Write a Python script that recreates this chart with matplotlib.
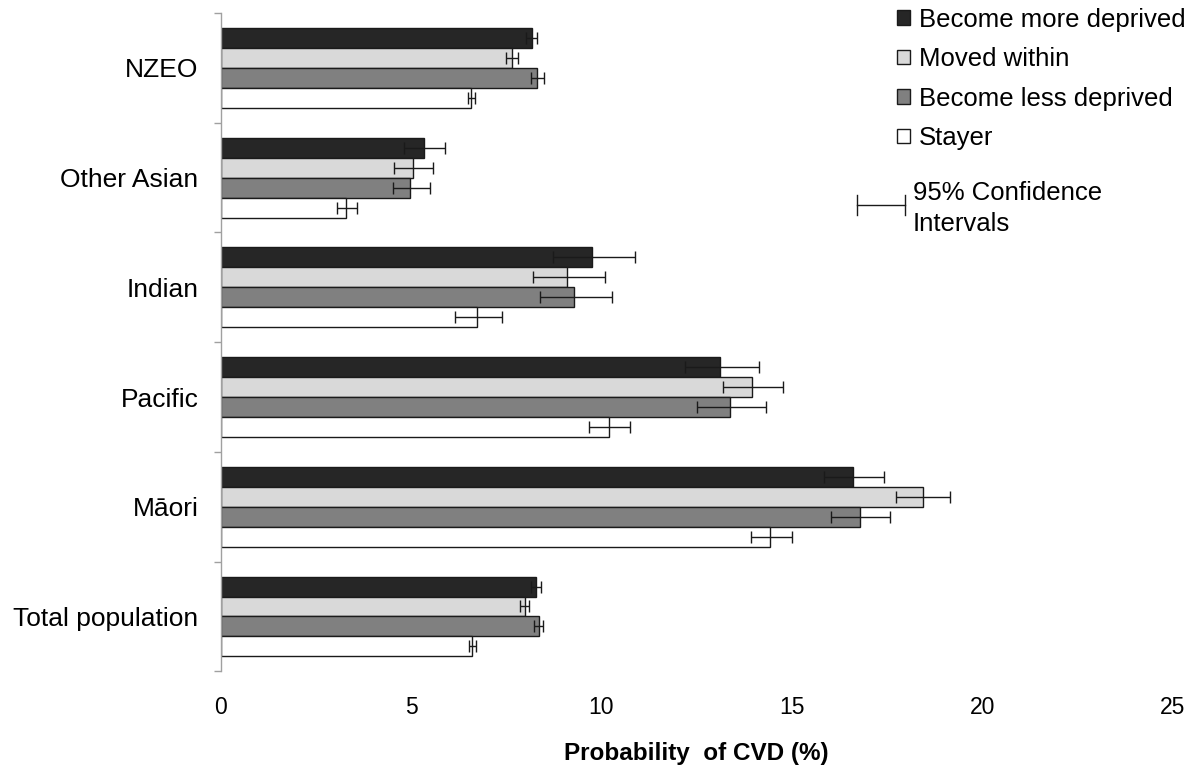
import numpy as np
import matplotlib.pyplot as plt
from matplotlib.patches import Patch
from matplotlib.lines import Line2D

plt.rcParams['font.family'] = ['Liberation Sans', 'DejaVu Sans']

groups = ["Total population", "M\u0101ori", "Pacific", "Indian", "Other Asian", "NZEO"]
series = ["Become more deprived", "Moved within", "Become less deprived", "Stayer"]
colors = ["#262626", "#d9d9d9", "#808080", "#ffffff"]

# probability of CVD (%) per group, bottom to top
more_deprived = [8.27, 16.62, 13.11, 9.75, 5.34, 8.18]
moved_within = [8.00, 18.44, 13.95, 9.09, 5.05, 7.66]
less_deprived = [8.37, 16.80, 13.37, 9.29, 4.98, 8.32]
stayer = [6.60, 14.44, 10.19, 6.72, 3.30, 6.58]

# 95% CI bounds
more_lo = [8.14, 15.85, 12.19, 8.73, 4.82, 8.03]
more_hi = [8.42, 17.43, 14.13, 10.87, 5.88, 8.31]
moved_lo = [7.87, 17.74, 13.19, 8.19, 4.55, 7.50]
moved_hi = [8.11, 19.17, 14.76, 10.10, 5.57, 7.81]
less_lo = [8.22, 16.04, 12.50, 8.38, 4.53, 8.16]
less_hi = [8.47, 17.58, 14.32, 10.27, 5.49, 8.48]
stay_lo = [6.51, 13.93, 9.67, 6.15, 3.04, 6.49]
stay_hi = [6.70, 15.01, 10.74, 7.38, 3.59, 6.68]

values = [more_deprived, moved_within, less_deprived, stayer]
lows = [more_lo, moved_lo, less_lo, stay_lo]
highs = [more_hi, moved_hi, less_hi, stay_hi]

fig = plt.figure(figsize=(12, 7.69), dpi=100)
ax = fig.add_axes([0.184, 0.127, 0.793, 0.856])

y = np.arange(len(groups))
h = 0.182
offsets = [1.5 * h, 0.5 * h, -0.5 * h, -1.5 * h]

for vals, lo, hi, col, off, name in zip(values, lows, highs, colors, offsets, series):
    vals = np.array(vals)
    xerr = [vals - np.array(lo), np.array(hi) - vals]
    ax.barh(y + off, vals, height=h, color=col, edgecolor="#1a1a1a",
            linewidth=1.0, label=name)
    ax.errorbar(vals, y + off, xerr=xerr, fmt="none", ecolor="#1a1a1a",
                elinewidth=1.0, capsize=4, capthick=1.0)

ax.set_xlim(0, 25)
ax.set_ylim(-0.5, 5.5)
ax.set_xticks([0, 5, 10, 15, 20, 25])
ax.set_yticks(y)
ax.set_yticklabels(groups)
ax.set_yticks(np.arange(-0.5, 6.0, 1.0), minor=True)
ax.tick_params(axis="y", which="major", length=0, pad=16, labelsize=19)
ax.tick_params(axis="y", which="minor", length=5, color="#a0a0a0", width=1)
ax.tick_params(axis="x", length=0, pad=18, labelsize=16.5)

for s in ["top", "right", "bottom"]:
    ax.spines[s].set_visible(False)
ax.spines["left"].set_color("#a0a0a0")
ax.spines["left"].set_linewidth(1.0)

ax.set_xlabel("Probability  of CVD (%)", fontsize=17.5, fontweight="bold", labelpad=16)

handles = [Patch(facecolor=c, edgecolor="#1a1a1a", linewidth=1.0) for c in colors]
ax.legend(handles, series, loc="upper left", bbox_to_anchor=(0.711, 1.008),
          frameon=False, fontsize=18.5, handlelength=0.5, handleheight=0.5,
          handletextpad=0.35, labelspacing=0.6, borderaxespad=0, borderpad=0)

# confidence interval key
cy = 1 - 205 / 769
x0, x1 = 857 / 1200, 905 / 1200
cap = 10 / 769
fig.add_artist(Line2D([x0, x1], [cy, cy], color="#1a1a1a", lw=1.0))
fig.add_artist(Line2D([x0, x0], [cy - cap, cy + cap], color="#1a1a1a", lw=1.0))
fig.add_artist(Line2D([x1, x1], [cy - cap, cy + cap], color="#1a1a1a", lw=1.0))
fig.text(913 / 1200, 1 - 193 / 769, "95% Confidence", fontsize=18.5, va="center")
fig.text(913 / 1200, 1 - 224 / 769, "Intervals", fontsize=18.5, va="center")

fig.savefig("out.png", dpi=100)
